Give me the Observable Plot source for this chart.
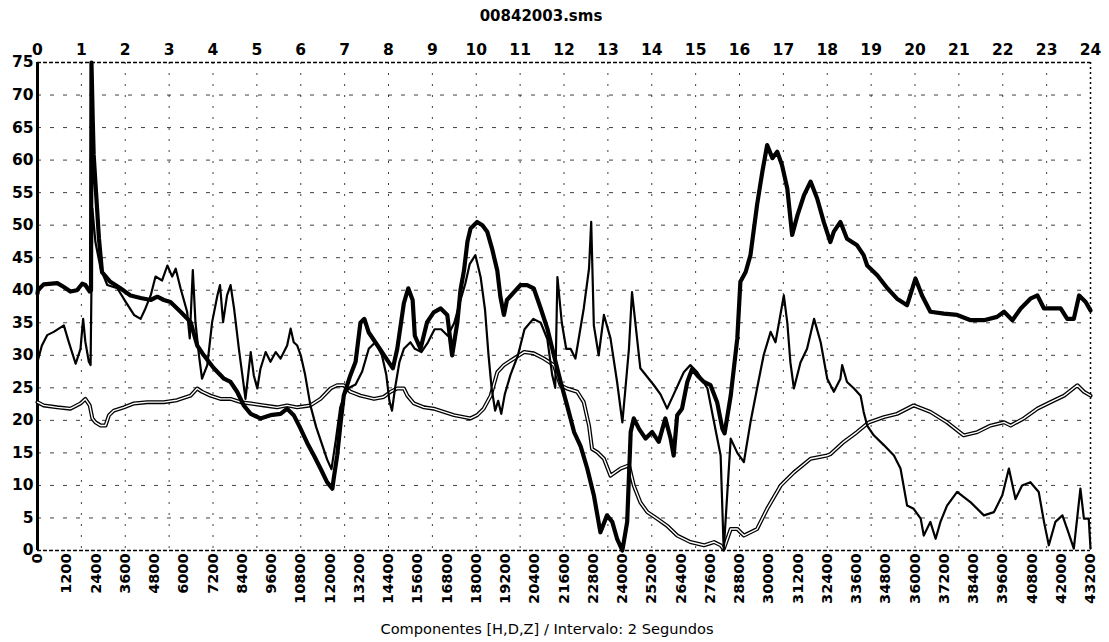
<!DOCTYPE html>
<html><head><meta charset="utf-8">
<script src="https://cdn.jsdelivr.net/npm/d3@7"></script>
<script src="https://cdn.jsdelivr.net/npm/@observablehq/plot@0.6"></script>
<style>
body{margin:0;background:#fff;width:1109px;height:642px;overflow:hidden}
#title{height:30px;position:relative;font:bold 15px "DejaVu Sans",sans-serif;color:#000}
#title span{position:absolute;left:541px;top:16px;transform:translate(-50%,-50%);white-space:nowrap}
#cap{height:30px;position:relative;font:14.6px "DejaVu Sans",sans-serif;color:#000}
#cap span{position:absolute;left:547px;top:16px;transform:translate(-50%,-50%);white-space:nowrap}
#chart svg{display:block}
</style></head><body>
<div id="title"><span>00842003.sms</span></div>
<div id="chart"></div>
<div id="cap"><span>Componentes [H,D,Z] / Intervalo: 2 Segundos</span></div>
<script>
// Hours (top axis) and sample ticks (bottom axis, 2-second interval)
const hourTicks = d3.range(0, 25);
const sampleTicks = d3.range(0, 43201, 1200);
const valueTicks = d3.range(0, 76, 5);

// Component H (thick line): [hour, value]
const seriesH = [[0,39.5],[0.01,40],[0.14,40.9],[0.45,41.1],[0.6,40.5],[0.75,39.8],[0.9,40],[1.02,41],[1.09,40.8],[1.19,39.8],[1.22,40],[1.23,75],[1.26,66],[1.28,60.8],[1.4,48],[1.47,42.8],[1.66,41.3],[1.89,40.3],[2.12,39.2],[2.35,38.8],[2.58,38.5],[2.73,39],[2.88,38.5],[3.03,38.2],[3.26,36.7],[3.49,35.1],[3.64,31.5],[3.79,30],[4.02,28],[4.25,26.4],[4.4,25.9],[4.55,24.4],[4.7,22.3],[4.86,21],[5.08,20.3],[5.31,20.8],[5.54,21],[5.69,21.8],[5.84,20.8],[5.99,18.8],[6.15,16.5],[6.3,14.6],[6.45,12.6],[6.6,10.5],[6.72,9.5],[6.75,11],[6.83,14.6],[6.91,19.7],[6.98,23.8],[7.13,26.9],[7.25,29],[7.36,35],[7.45,35.6],[7.55,33.5],[7.8,31],[8.0,29],[8.1,28],[8.2,31],[8.35,38],[8.45,40.3],[8.55,38.5],[8.6,33],[8.73,31],[8.88,35.1],[9.03,36.6],[9.19,37.2],[9.34,36.2],[9.45,30],[9.57,35.1],[9.64,40],[9.72,43],[9.8,47.5],[9.87,49.5],[10.02,50.5],[10.14,50],[10.25,49],[10.36,46.4],[10.48,43],[10.55,39],[10.63,36.2],[10.7,38.5],[10.86,39.7],[11.01,40.8],[11.16,40.8],[11.31,40.3],[11.47,37.2],[11.62,34.1],[11.77,30],[11.92,26],[12.07,22.3],[12.23,18.2],[12.38,16],[12.53,12.6],[12.68,8.5],[12.83,2.8],[12.98,5.4],[13.1,4.4],[13.21,1.8],[13.33,0],[13.44,4.4],[13.52,18.2],[13.59,20.3],[13.71,18.7],[13.86,17.2],[14.01,18.2],[14.16,16.7],[14.31,20.3],[14.43,17.2],[14.5,14.6],[14.58,20.8],[14.69,21.8],[14.81,25.9],[14.92,27.9],[15.04,26.9],[15.19,25.9],[15.34,25.4],[15.49,22.8],[15.61,18.7],[15.66,18],[15.8,23.8],[15.95,32.6],[16.02,41.3],[16.14,42.8],[16.25,45.4],[16.4,53.1],[16.52,58.2],[16.63,62.3],[16.75,60.3],[16.86,61.3],[16.97,59.2],[17.09,55.6],[17.2,48.5],[17.32,51.5],[17.47,54.6],[17.62,56.7],[17.77,54.1],[17.92,50.5],[18.07,47.4],[18.15,49],[18.3,50.5],[18.45,47.9],[18.68,46.9],[18.83,45.4],[18.91,43.8],[19.14,42.3],[19.37,40.3],[19.59,38.7],[19.82,37.7],[20.01,41.8],[20.16,39.2],[20.35,36.7],[20.66,36.4],[20.96,36.2],[21.27,35.4],[21.57,35.4],[21.87,35.9],[22.03,36.7],[22.22,35.4],[22.41,37.2],[22.63,38.7],[22.79,39.2],[22.94,37.2],[23.09,37.2],[23.32,37.2],[23.47,35.6],[23.62,35.6],[23.74,39.2],[23.89,38.2],[24,36.9]];

// Component D (medium line)
const seriesD = [[0,29],[0.1,31.5],[0.22,33.1],[0.37,33.6],[0.6,34.6],[0.71,32.1],[0.87,28.7],[0.98,31],[1.04,35.6],[1.09,32.1],[1.17,29],[1.21,28.5],[1.25,52.6],[1.32,47.4],[1.44,43.3],[1.59,40.8],[1.82,40.3],[2.01,38.2],[2.2,36.2],[2.35,35.6],[2.46,37.2],[2.58,39.2],[2.69,42.1],[2.84,41.5],[2.96,43.8],[3.07,42.1],[3.15,43.3],[3.26,40.3],[3.41,36.7],[3.47,32.6],[3.54,43.1],[3.6,35.1],[3.68,30],[3.75,26.4],[3.87,28.5],[3.98,35.1],[4.1,39.2],[4.16,40.8],[4.23,35.1],[4.32,39.2],[4.4,40.8],[4.48,37.2],[4.59,31],[4.67,26.9],[4.74,23.3],[4.86,30.5],[4.93,26.9],[5.01,24.9],[5.08,27.9],[5.2,30.5],[5.31,29],[5.43,30.5],[5.54,29.5],[5.69,31.5],[5.77,34.1],[5.84,32],[5.92,31.5],[6.0,30],[6.1,27],[6.22,22.3],[6.35,19],[6.45,17],[6.6,14],[6.7,12.5],[6.8,17],[6.9,22],[7.0,24],[7.1,25],[7.25,25.5],[7.4,27.5],[7.55,31],[7.7,32],[7.85,30],[7.95,27],[8.02,23],[8.08,21.5],[8.15,25],[8.25,29],[8.35,31],[8.5,32],[8.6,31],[8.75,30.5],[8.9,32],[9.05,34],[9.2,34],[9.35,33],[9.5,35],[9.62,38],[9.75,41],[9.85,44],[9.98,45.4],[10.1,42],[10.2,37],[10.28,30],[10.35,25],[10.43,21.5],[10.5,23],[10.57,21],[10.65,24],[10.78,27],[10.95,30],[11.1,34],[11.3,35.6],[11.47,35],[11.62,32.5],[11.73,27],[11.8,25],[11.85,42],[11.95,35],[12.05,31],[12.15,31],[12.26,29.5],[12.45,37.2],[12.57,43.3],[12.62,50.5],[12.68,34.6],[12.79,30],[12.91,36.2],[13.06,32.6],[13.21,25.9],[13.33,19.7],[13.4,24.9],[13.48,31],[13.55,39.7],[13.74,28],[14.05,25.4],[14.2,24],[14.35,21.8],[14.5,24],[14.73,27.4],[14.88,28.5],[15.04,27.4],[15.27,24.9],[15.42,19.7],[15.57,14.6],[15.64,0],[15.8,17.2],[15.95,15],[16.1,13.6],[16.25,19.7],[16.4,24.9],[16.55,30],[16.71,33.6],[16.82,32],[16.9,35],[17.01,39.2],[17.09,35],[17.16,28.9],[17.24,24.9],[17.39,28.9],[17.54,31],[17.7,35.6],[17.85,32],[18.0,26.4],[18.15,24.4],[18.3,26.4],[18.34,28.5],[18.45,25.9],[18.61,24.9],[18.76,23.8],[18.83,21.3],[18.91,19.2],[19.06,17.7],[19.29,16.2],[19.52,14.6],[19.67,12.6],[19.82,6.9],[19.97,6.4],[20.13,4.9],[20.2,2.3],[20.35,4.4],[20.47,1.8],[20.58,4.4],[20.73,6.9],[20.96,9],[21.27,7.4],[21.57,5.4],[21.8,5.9],[21.99,8.5],[22.14,12.6],[22.29,7.9],[22.44,10],[22.63,10.5],[22.82,9],[22.94,4.4],[23.05,0.8],[23.2,4.4],[23.36,5.4],[23.47,3.3],[23.62,0.3],[23.77,9.5],[23.85,4.9],[23.96,4.9],[24,0.3]];

// Component Z (outlined line)
const seriesZ = [[0,22.8],[0.14,22.3],[0.45,22],[0.75,21.8],[0.98,22.6],[1.09,23.3],[1.19,22.3],[1.25,20.3],[1.32,19.7],[1.44,19.2],[1.55,19.2],[1.63,20.8],[1.74,21.5],[1.97,22],[2.2,22.6],[2.5,22.8],[2.88,22.8],[3.18,23.1],[3.49,23.8],[3.64,24.9],[3.75,24.4],[3.94,23.8],[4.17,23.3],[4.4,23.3],[4.63,22.8],[4.86,22.6],[5.16,22.3],[5.46,22],[5.69,22.3],[5.92,22],[6.22,22.3],[6.45,23.3],[6.68,24.9],[6.83,25.4],[6.98,25.4],[7.13,24.4],[7.36,23.8],[7.67,23.3],[7.89,23.6],[8.05,24.4],[8.2,24.9],[8.35,24.9],[8.43,23.8],[8.58,22.6],[8.81,22],[9.03,21.8],[9.26,21.3],[9.49,20.8],[9.72,20.5],[9.87,20.3],[10.02,20.8],[10.17,21.8],[10.33,23.8],[10.48,27.4],[10.63,28.5],[10.86,29.5],[11.09,30.5],[11.31,30.3],[11.54,29.5],[11.77,28.5],[11.92,25.4],[12.07,24.9],[12.3,24.4],[12.45,22.8],[12.57,19.2],[12.64,15.6],[12.76,15.1],[12.91,14.1],[13.06,11.5],[13.29,12.6],[13.48,13.1],[13.59,10],[13.74,7.4],[13.9,5.9],[14.12,4.9],[14.35,3.8],[14.58,2.3],[14.88,1.3],[15.19,0.8],[15.42,1.3],[15.57,0.8],[15.64,0.2],[15.8,3.3],[15.95,3.3],[16.1,2.3],[16.4,3.3],[16.63,6.4],[16.94,10],[17.24,12],[17.62,14.1],[18.0,14.6],[18.07,14.8],[18.38,16.7],[18.68,18.2],[18.95,19.7],[19.29,20.5],[19.59,21],[19.97,22.3],[20.35,21.3],[20.73,19.7],[21.11,17.7],[21.42,18.2],[21.72,19.2],[22.03,19.7],[22.18,19.2],[22.48,20.3],[22.79,21.8],[23.09,22.8],[23.4,23.8],[23.7,25.4],[23.85,24.4],[24,23.8]];

const gridHours = hourTicks.filter(h => h > 0 && h < 24);
const gridValues = valueTicks.filter(v => v > 0 && v < 75);

const chart = Plot.plot({
  width: 1109,
  height: 582,
  marginLeft: 37,
  marginRight: 19,
  marginTop: 32,
  marginBottom: 62,
  style: {fontFamily: "DejaVu Sans", color: "#000", background: "#fff"},
  x: {domain: [0, 24]},
  y: {domain: [0, 75]},
  marks: [
    Plot.ruleX(gridHours, {stroke: "#000", strokeWidth: 1, strokeDasharray: "2,9", strokeOpacity: 0.75}),
    Plot.ruleY(gridValues, {stroke: "#000", strokeWidth: 1, strokeDasharray: "4,9", strokeOpacity: 0.75}),
    Plot.ruleY([0, 75], {stroke: "#000", strokeWidth: 1.5, strokeDasharray: "4,2"}),
    Plot.ruleX([24], {stroke: "#000", strokeWidth: 1.5, strokeDasharray: "2,3"}),
    Plot.ruleX([0], {stroke: "#000", strokeWidth: 3}),
    Plot.lineY(seriesZ, {x: d => d[0], y: d => d[1], stroke: "#000", strokeWidth: 4}),
    Plot.lineY(seriesZ, {x: d => d[0], y: d => d[1], stroke: "#fff", strokeWidth: 1.4}),
    Plot.lineY(seriesD, {x: d => d[0], y: d => d[1], stroke: "#000", strokeWidth: 2.2}),
    Plot.lineY(seriesH, {x: d => d[0], y: d => d[1], stroke: "#000", strokeWidth: 4.2}),
    Plot.axisX(hourTicks, {anchor: "top", tickSize: 0, tickPadding: 8, fontSize: 15.5, fontWeight: "bold", tickFormat: d => String(d)}),
    Plot.axisX(sampleTicks.map(s => s / 1800), {anchor: "bottom", tickSize: 0, tickPadding: 3, tickRotate: -90, fontSize: 14.5, fontWeight: "bold", tickFormat: d => String(Math.round(d * 1800))}),
    Plot.axisY(valueTicks, {anchor: "left", tickSize: 0, tickPadding: 4, fontSize: 15.5, fontWeight: "bold", tickFormat: d => String(d)})
  ]
});
document.getElementById("chart").appendChild(chart);
</script>
</body></html>
